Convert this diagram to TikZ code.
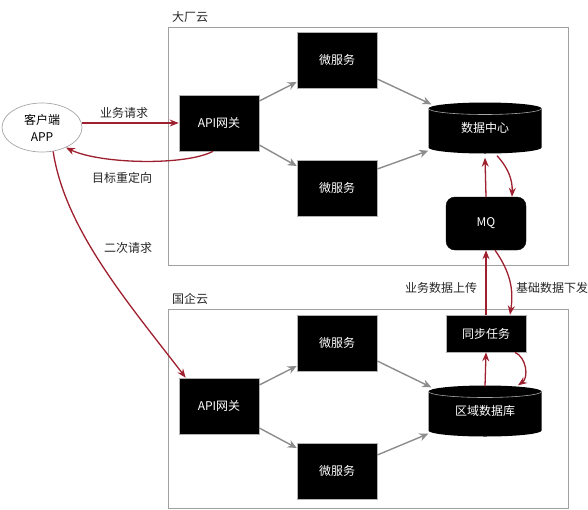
\documentclass[tikz,border=0pt]{standalone}
\usepackage{fontspec}
\setmainfont{Noto Sans CJK SC}
\usetikzlibrary{arrows.meta,calc,shapes.geometric}
\definecolor{redarr}{RGB}{158,32,46}
\definecolor{grayarr}{RGB}{140,140,140}
\definecolor{frame}{RGB}{160,160,160}
\begin{document}
\begin{tikzpicture}[x=1pt,y=-1pt,
  every node/.style={font=\fontsize{12pt}{15pt}\selectfont},
  blk/.style={fill=black,draw=gray!60,line width=0.6pt,text=white,minimum width=80pt,minimum height=56pt,inner sep=0pt},
  mqbox/.style={fill=black,draw=black,rounded corners=9pt,text=white,minimum width=80pt,minimum height=53pt,inner sep=0pt},
  syncbox/.style={blk,minimum height=37pt},
  dbcyl/.style={minimum width=113pt,minimum height=51pt,inner sep=0pt,text=white,
    path picture={
      \fill[black] ([yshift=-6pt]path picture bounding box.north west)
        arc[start angle=180,end angle=0,x radius=56.5pt,y radius=6pt]
        -- ([yshift=6pt]path picture bounding box.south east)
        arc[start angle=0,end angle=-180,x radius=56.5pt,y radius=6pt] -- cycle;
      \draw[gray!70,line width=0.6pt] ([yshift=-6pt]path picture bounding box.north west)
        arc[start angle=180,end angle=360,x radius=56.5pt,y radius=6pt];
    }},
  container/.style={draw=frame,line width=0.8pt},
  garrow/.style={draw=grayarr,line width=1.4pt,-{Stealth[length=9pt,width=8pt]}},
  rarrow/.style={draw=redarr,line width=1.3pt,-{Stealth[length=9pt,width=7pt]}},
  lbl/.style={text=black!85,inner sep=1pt}
]
\useasboundingbox (0,0) rectangle (588,509);

% containers
\draw[container] (168,27) rectangle (568,265);
\node[lbl,anchor=west] (t1) at (171,17) {大厂云};
\draw[container] (168,309) rectangle (568,508);
\node[lbl,anchor=west] (t2) at (171,299) {国企云};

% client
\node[ellipse,draw=gray!70,line width=0.7pt,minimum width=80pt,minimum height=49pt,inner sep=0pt,align=center,
  font=\fontsize{12pt}{17pt}\selectfont] (client) at (42,127.5) {客户端\\APP};

% top cloud
\node[blk] (api1) at (219,123) {API网关};
\node[blk] (ms1) at (337,60) {微服务};
\node[blk] (ms2) at (337,188) {微服务};
\node[dbcyl] (dc) at (485,128) {数据中心};
\node[mqbox] (mq) at (486,223.5) {MQ};

% bottom cloud
\node[syncbox] (sync) at (486,333.5) {同步任务};
\node[blk] (api2) at (219,406) {API网关};
\node[blk] (ms3) at (337,343) {微服务};
\node[blk] (ms4) at (337,471) {微服务};
\node[dbcyl] (db) at (485,411) {区域数据库};

% gray arrows top
\draw[garrow] ($(api1.east)+(0,-22)$) -- ($(ms1.west)+(0,22)$);
\draw[garrow] ($(api1.east)+(0,22)$) -- ($(ms2.west)+(0,-22)$);
\draw[garrow] ($(ms1.east)+(0,19)$) -- ($(dc.north west)+(3,2)$);
\draw[garrow] ($(ms2.east)+(0,-19)$) -- ($(dc.south west)+(0,-3)$);

% gray arrows bottom
\draw[garrow] ($(api2.east)+(0,-21)$) -- ($(ms3.west)+(0,23)$);
\draw[garrow] ($(api2.east)+(0,22)$) -- ($(ms4.west)+(0,-23)$);
\draw[garrow] ($(ms3.east)+(0,18)$) -- ($(db.north west)+(3,2)$);
\draw[garrow] ($(ms4.east)+(0,-16)$) -- ($(db.south west)+(0,-3)$);

% red arrows client
\draw[rarrow] (client.east |- api1.west) -- (api1.west);
\node[lbl] (l1) at (124,113) {业务请求};
\draw[rarrow] ($(api1.south)+(-6,0)$) .. controls (185,166) and (100,164) .. (client.-40);
\node[lbl] (l2) at (122,178) {目标重定向};
\draw[rarrow] (client.-65) .. controls (65,230) and (130,305) .. ($(api2.north west)+(7,0)$);
\node[lbl] (l3) at (128,248) {二次请求};

% red arrows data sync
\draw[rarrow] (mq.north) -- ($(dc.south)+(0,4)$);
\draw[rarrow] ($(dc.south)+(12,2)$) to[bend left=22] ($(mq.north)+(26,0)$);
\draw[rarrow] (sync.north) -- (mq.south);
\draw[rarrow] ($(mq.south)+(9,0)$) to[bend left=22] ($(sync.north)+(24,0)$);
\draw[rarrow] ($(db.north)+(0,1)$) -- (sync.south);
\draw[rarrow] ($(sync.south)+(29,0)$) to[bend left=60] ($(db.north)+(33,0)$);
\node[lbl] (l4) at (441,288) {业务数据上传};
\node[lbl] (l5) at (552,288) {基础数据下发};
\end{tikzpicture}
\end{document}
